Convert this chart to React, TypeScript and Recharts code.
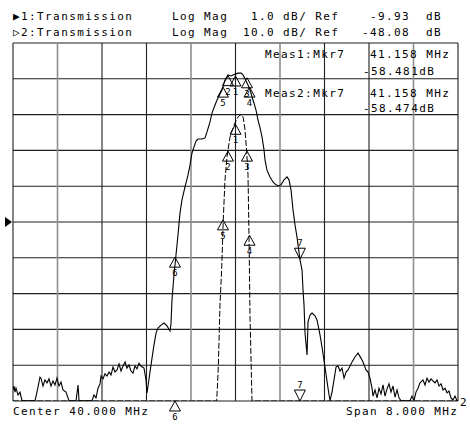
import React from "react";
import { LineChart, Line, XAxis, YAxis, CartesianGrid, ReferenceDot } from "recharts";

// Network analyzer display: center 40 MHz, span 8 MHz
const FREQ_TICKS = [36, 36.8, 37.6, 38.4, 39.2, 40, 40.8, 41.6, 42.4, 43.2, 44];

// channel 1: 1.0 dB/div, ref -9.93 dB at center line
const REF1 = -9.93;
const BOT1 = -14.93;
const TOP1 = -4.93;
// channel 2: 10.0 dB/div, ref -48.08 dB at center line
const REF2 = -48.08;
const DB2_TICKS = [-98.08, -88.08, -78.08, -68.08, -58.08, -48.08, -38.08, -28.08, -18.08, -8.08, 1.92];

const TRACE1_FREQ = [
  36.0, 39.662, 39.691, 39.721, 39.752, 39.78, 39.811, 39.847, 39.901, 39.937, 39.991, 40.045,
  40.081, 40.117, 40.14, 40.171, 40.202, 40.225, 40.243, 40.261, 40.288, 40.297, 44.0,
];
const TRACE1_DB = [
  -14.93, -14.93, -13.98, -12.25, -11.22, -9.87, -8.76, -8.11, -7.56, -7.39, -7.16, -7.0,
  -6.94, -6.94, -7.02, -7.36, -8.0, -8.62, -10.35, -12.58, -14.34, -14.93, -14.93,
];

const TRACE2_FREQ = [
  36.0, 36.018, 36.036, 36.054, 36.09, 36.126, 36.162, 36.396, 36.431, 36.485, 36.503, 36.539,
  36.575, 36.611, 36.647, 36.683, 36.719, 36.755, 36.791, 36.827, 36.863, 36.899, 36.953, 37.007,
  37.133, 37.169, 37.187, 37.42, 37.456, 37.492, 37.528, 37.564, 37.582, 37.618, 37.654, 37.69,
  37.726, 37.762, 37.798, 37.834, 37.87, 37.906, 37.942, 37.978, 38.014, 38.049, 38.085, 38.121,
  38.157, 38.193, 38.229, 38.265, 38.301, 38.355, 38.391, 38.409, 38.427, 38.463, 38.499, 38.535,
  38.571, 38.607, 38.661, 38.715, 38.769, 38.822, 38.84, 38.858, 38.894, 38.93, 38.966, 39.002,
  39.038, 39.092, 39.146, 39.182, 39.218, 39.254, 39.29, 39.326, 39.398, 39.452, 39.488, 39.542,
  39.578, 39.632, 39.668, 39.722, 39.757, 39.811, 39.865, 39.919, 39.955, 40.009, 40.045, 40.099,
  40.135, 40.171, 40.225, 40.261, 40.315, 40.369, 40.405, 40.441, 40.477, 40.513, 40.531, 40.566,
  40.62, 40.674, 40.728, 40.782, 40.818, 40.872, 40.926, 40.962, 40.998, 41.034, 41.07, 41.106,
  41.158, 41.196, 41.214, 41.232, 41.25, 41.286, 41.304, 41.34, 41.376, 41.43, 41.466, 41.519,
  41.555, 41.609, 41.663, 41.699, 41.735, 41.771, 41.807, 41.843, 41.879, 41.915, 41.951, 41.987,
  42.023, 42.059, 42.095, 42.148, 42.202, 42.256, 42.292, 42.346, 42.382, 42.418, 42.454, 42.472,
  42.508, 42.544, 42.58, 42.616, 42.652, 42.688, 42.724, 42.76, 42.796, 42.832, 42.868, 42.904,
  42.94, 42.976, 43.137, 43.173, 43.209, 43.245, 43.281, 43.317, 43.371, 43.407, 43.443, 43.479,
  43.515, 43.551, 43.587, 43.623, 43.659, 43.695, 43.731, 43.767, 43.803, 43.838, 43.874, 43.91,
  43.946, 43.982, 44.0,
];
const TRACE2_DB = [
  -95.0, -93.9, -95.6, -94.5, -96.4, -95.6, -98.0, -98.0, -95.6, -91.4, -91.7, -93.9,
  -92.2, -93.0, -91.9, -93.9, -92.5, -93.6, -91.7, -93.9, -92.8, -95.0, -95.6, -98.0,
  -98.0, -93.6, -98.0, -98.0, -96.4, -97.2, -94.5, -93.3, -91.1, -91.9, -90.5, -91.1,
  -90.0, -90.8, -88.6, -90.0, -89.4, -87.7, -89.7, -88.3, -87.2, -88.9, -88.0, -89.7,
  -90.3, -88.3, -89.1, -87.5, -88.3, -88.9, -92.2, -95.8, -93.9, -90.0, -86.1, -82.4,
  -79.1, -77.7, -76.9, -76.3, -77.1, -78.5, -76.6, -69.9, -62.9, -57.3, -51.7, -45.6,
  -41.9, -38.3, -35.0, -32.2, -28.8, -27.1, -25.5, -24.9, -24.9, -24.6, -22.9, -20.1,
  -17.6, -15.4, -14.0, -12.3, -11.2, -8.4, -7.0, -7.3, -7.0, -6.7, -6.5, -6.5,
  -7.0, -8.1, -9.8, -11.2, -14.0, -16.8, -19.6, -21.8, -24.3, -28.0, -30.8, -33.6,
  -35.5, -36.9, -37.7, -38.0, -37.7, -36.3, -35.5, -36.3, -39.1, -44.7, -48.9, -52.3,
  -58.5, -61.5, -67.1, -71.3, -79.1, -85.2, -76.0, -74.1, -73.5, -74.3, -75.5, -79.6,
  -83.0, -88.6, -94.5, -98.0, -95.6, -92.2, -88.6, -88.3, -89.7, -88.9, -91.7, -90.0,
  -89.4, -88.3, -87.2, -85.8, -84.7, -86.1, -87.2, -89.4, -90.0, -91.7, -94.5, -96.7,
  -95.0, -97.2, -94.5, -96.1, -93.6, -96.7, -94.7, -93.3, -95.6, -93.9, -97.0, -95.0,
  -97.2, -98.0, -98.0, -96.7, -98.0, -95.6, -94.5, -93.0, -92.2, -93.6, -91.7, -92.8,
  -91.9, -92.5, -93.0, -92.2, -93.9, -93.3, -95.0, -94.5, -95.8, -95.3, -97.2, -97.8,
  -96.7, -98.0, -98.0,
];

// coupled markers (same stimulus on both channels)
const MARKER_IDS = [1, 2, 3, 4, 5, 6, 7];
const MARKER_FREQ = [40.0, 39.865, 40.207, 40.252, 39.775, 38.912, 41.158];
const MARKER_DB1 = [-7.2, -7.95, -7.95, -10.3, -9.87, -57.9, -58.481];
const MARKER_DB2 = [-7.3, -7.2, -7.8, -10.4, -10.4, -57.9, -58.474];
const ACTIVE_MARKER = 7;

const trace1 = TRACE1_FREQ.map((f, i) => ({ f, db: TRACE1_DB[i] }));
const trace2 = TRACE2_FREQ.map((f, i) => ({ f, db: TRACE2_DB[i] }));

const GREY_COLS = [1, 4, 6, 9];
const FONT = "'DejaVu Sans Mono', monospace";

function MarkerGlyph({ cx, cy, label, down }: any) {
  if (cx == null || cy == null) return null;
  if (down) {
    return (
      <g>
        <polygon points={`${cx - 5.5},${cy - 11} ${cx + 5.5},${cy - 11} ${cx},${cy}`} fill="none" stroke="#000" strokeWidth={1} />
        <text x={cx} y={cy - 13} textAnchor="middle" fontSize={9} fontFamily={FONT} fill="#000">{label}</text>
      </g>
    );
  }
  return (
    <g>
      <polygon points={`${cx},${cy} ${cx + 5.5},${cy + 10} ${cx - 5.5},${cy + 10}`} fill="none" stroke="#000" strokeWidth={1} />
      <text x={cx} y={cy + 19} textAnchor="middle" fontSize={9} fontFamily={FONT} fill="#000">{label}</text>
    </g>
  );
}

const gridLine = (dir: string) => (props: any) => {
  const { x1, y1, x2, y2, index } = props;
  const grey = dir === "v" && GREY_COLS.includes(index);
  return (
    <line
      key={`${dir}-${index}-${x1}-${y1}`}
      x1={x1}
      y1={y1}
      x2={x2}
      y2={y2}
      stroke={grey ? "#8e8e8e" : "#1e1e1e"}
      strokeWidth={grey ? 1.6 : 1.1}
    />
  );
};

const txt: React.CSSProperties = { fontFamily: FONT, fontSize: 11, letterSpacing: 1.4 };

export default function App() {
  return (
    <div style={{ position: "absolute", left: 0, top: 0, width: 470, height: 429, background: "#fff" }}>
      <LineChart width={470} height={429} margin={{ top: 43, right: 12, bottom: 28, left: 13 }}>
        <XAxis type="number" dataKey="f" domain={[36, 44]} ticks={FREQ_TICKS} hide allowDataOverflow />
        <YAxis yAxisId="ch2" domain={[DB2_TICKS[0], DB2_TICKS[10]]} ticks={DB2_TICKS} hide allowDataOverflow />
        <YAxis yAxisId="ch1" domain={[BOT1, TOP1]} hide allowDataOverflow />
        <CartesianGrid yAxisId="ch2" vertical={gridLine("v")} horizontal={gridLine("h")} />
        <Line
          yAxisId="ch2"
          data={trace2}
          dataKey="db"
          type="linear"
          stroke="#000"
          strokeWidth={1.1}
          dot={false}
          isAnimationActive={false}
        />
        <Line
          yAxisId="ch1"
          data={trace1}
          dataKey="db"
          type="linear"
          stroke="#000"
          strokeWidth={1}
          strokeDasharray="6 2"
          dot={false}
          isAnimationActive={false}
        />
        {MARKER_IDS.map((id, i) => (
          <ReferenceDot
            key={`m2-${id}`}
            yAxisId="ch2"
            x={MARKER_FREQ[i]}
            y={MARKER_DB2[i]}
            ifOverflow="visible"
            shape={(p: any) => <MarkerGlyph cx={p.cx} cy={p.cy} label={id} down={id === ACTIVE_MARKER} />}
          />
        ))}
        {MARKER_IDS.map((id, i) => (
          <ReferenceDot
            key={`m1-${id}`}
            yAxisId="ch1"
            x={MARKER_FREQ[i]}
            y={Math.max(MARKER_DB1[i], BOT1)}
            ifOverflow="visible"
            shape={(p: any) => <MarkerGlyph cx={p.cx} cy={p.cy} label={id} down={id === ACTIVE_MARKER} />}
          />
        ))}
        <ReferenceDot
          yAxisId="ch1"
          x={36}
          y={REF1}
          ifOverflow="visible"
          shape={(p: any) => (
            <polygon points={`${p.cx - 8},${p.cy - 5} ${p.cx - 1},${p.cy} ${p.cx - 8},${p.cy + 5}`} fill="#000" />
          )}
        />
      </LineChart>

      <svg width={470} height={429} style={{ position: "absolute", left: 0, top: 0, pointerEvents: "none" }}>
        <g fill="#000" style={txt}>
          <text x={13} y={20}>▶1:Transmission</text>
          <text x={172} y={20}>Log Mag</text>
          <text x={251} y={20}>1.0 dB/ Ref</text>
          <text x={370} y={20}>{REF1.toFixed(2)}</text>
          <text x={426} y={20}>dB</text>

          <text x={13} y={36}>▷2:Transmission</text>
          <text x={172} y={36}>Log Mag</text>
          <text x={243} y={36}>10.0 dB/ Ref</text>
          <text x={362} y={36}>{REF2.toFixed(2)}</text>
          <text x={426} y={36}>dB</text>

          <text x={265} y={58}>Meas1:Mkr7</text>
          <text x={370} y={58}>{MARKER_FREQ[6].toFixed(3)} MHz</text>
          <text x={363} y={75}>{MARKER_DB1[6].toFixed(3)}dB</text>
          <text x={265} y={97}>Meas2:Mkr7</text>
          <text x={370} y={97}>{MARKER_FREQ[6].toFixed(3)} MHz</text>
          <text x={363} y={112}>{MARKER_DB2[6].toFixed(3)}dB</text>

          <text x={13} y={415}>Center 40.000 MHz</text>
          <text x={346} y={415}>Span 8.000 MHz</text>
          <text x={460} y={406}>2</text>
        </g>
      </svg>
    </div>
  );
}
